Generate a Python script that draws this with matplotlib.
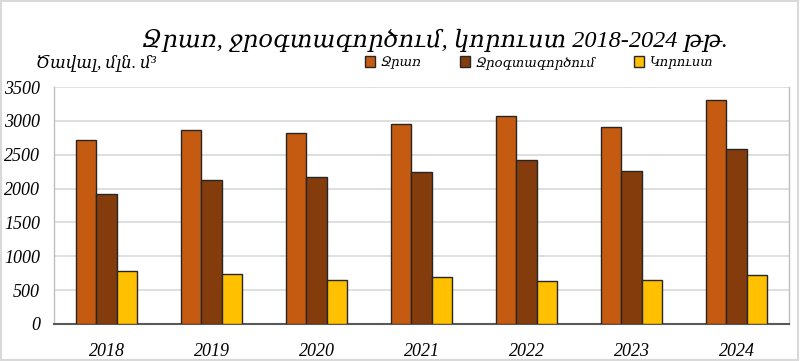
import matplotlib
matplotlib.use("Agg")
import matplotlib.pyplot as plt
import numpy as np
from matplotlib.patches import Rectangle

years = ["2018", "2019", "2020", "2021", "2022", "2023", "2024"]
series_names = ["Ջրառ", "Ջրօգտագործում", "Կորուստ"]
withdrawal = [2710, 2860, 2820, 2960, 3070, 2910, 3310]
use = [1920, 2120, 2170, 2250, 2415, 2255, 2580]
loss = [780, 740, 650, 700, 640, 645, 725]
colors = ["#C55A11", "#843C0C", "#FFC000"]
yticks = [0, 500, 1000, 1500, 2000, 2500, 3000, 3500]

fam = ["Liberation Serif", "DejaVu Serif"]

fig = plt.figure(figsize=(8, 3.61), dpi=100)
W, H = 800, 361
ax = fig.add_axes([54 / W, 1 - 324 / H, (789 - 54) / W, (324 - 87) / H])

x = np.arange(len(years))
bw = 0.193
for i, (vals, c, name) in enumerate(zip([withdrawal, use, loss], colors, series_names)):
    ax.bar(x + (i - 1) * bw, vals, width=bw, color=c, edgecolor="#262626",
           linewidth=1.0, label=name, zorder=3)

ax.set_xlim(-0.5, len(years) - 0.5)
ax.set_ylim(0, 3500)
ax.set_yticks(yticks)
ax.set_yticklabels([str(t) for t in yticks], family=fam, style="italic", fontsize=13)
ax.set_xticks(x)
ax.set_xticklabels(years, family=fam, style="italic", fontsize=13)
ax.tick_params(axis="both", length=0)
ax.tick_params(axis="x", pad=14)
ax.tick_params(axis="y", pad=10)
ax.yaxis.grid(True, color="#D9D9D9", linewidth=1.2, zorder=0)
ax.set_axisbelow(True)
for s in ["left", "right"]:
    ax.spines[s].set_color("#BFBFBF")
    ax.spines[s].set_linewidth(1.0)
ax.spines["top"].set_visible(False)
ax.spines["bottom"].set_color("#595959")
ax.spines["bottom"].set_linewidth(1.5)

fig.text(435 / W, 1 - 40 / H, "Ջրառ, ջրօգտագործում, կորուստ 2018-2024 թթ.",
         family=fam, style="italic", fontsize=17.5, ha="center", va="center")
fig.text(36 / W, 1 - 63 / H, "Ծավալ, մլն. մ³", family=fam, style="italic",
         fontsize=12, ha="left", va="center")

handles, labels = ax.get_legend_handles_labels()
leg = fig.legend(handles, labels, loc="center", bbox_to_anchor=(539 / W, 1 - 63 / H),
                 ncol=3, frameon=False, prop={"family": fam, "style": "italic", "size": 9.5},
                 handlelength=0.7, handleheight=0.9, handletextpad=0.4, columnspacing=3.0)

fig.patches.append(Rectangle((0.001, 0.002), 0.997, 0.995, transform=fig.transFigure,
                             fill=False, edgecolor="#D9D9D9", linewidth=1.5))

fig.savefig("out.png", dpi=100)
